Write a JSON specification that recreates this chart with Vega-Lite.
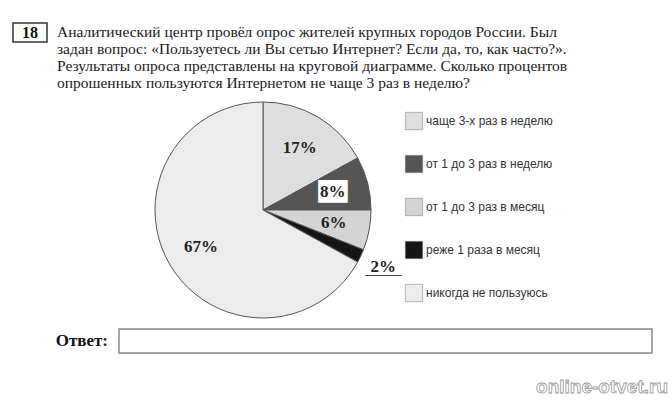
{
  "$schema": "https://vega.github.io/schema/vega-lite/v6.json",
  "padding": {"left": 12, "top": 22, "right": 0, "bottom": 0},
  "background": "white",
  "spacing": 6,
  "config": {"view": {"stroke": null}},
  "datasets": {
    "survey": [
      {"idx": 1, "cat": "чаще 3-х раз в неделю", "pct": 17, "label": "17%"},
      {"idx": 2, "cat": "от 1 до 3 раз в неделю", "pct": 8, "label": "8%"},
      {"idx": 3, "cat": "от 1 до 3 раз в месяц", "pct": 6, "label": "6%"},
      {"idx": 4, "cat": "реже 1 раза в месяц", "pct": 2, "label": "2%"},
      {"idx": 5, "cat": "никогда не пользуюсь", "pct": 67, "label": "67%"}
    ],
    "question": [
      {"line": 1, "text": "Аналитический центр провёл опрос жителей крупных городов России. Был"},
      {"line": 2, "text": "задан вопрос: «Пользуетесь ли Вы сетью Интернет? Если да, то, как часто?»."},
      {"line": 3, "text": "Результаты опроса представлены на круговой диаграмме. Сколько процентов"},
      {"line": 4, "text": "опрошенных пользуются Интернетом не чаще 3 раз в неделю?"}
    ]
  },
  "vconcat": [
    {
      "spacing": 9,
      "hconcat": [
        {
          "width": 34,
          "height": 19,
          "view": {"stroke": "#333", "strokeWidth": 1.5},
          "data": {"values": [{"n": "18"}]},
          "mark": {"type": "text", "font": "Liberation Serif", "fontSize": 16, "fontWeight": "bold", "color": "#111"},
          "encoding": {"text": {"field": "n"}}
        },
        {
          "width": 600,
          "height": 69,
          "data": {"name": "question"},
          "mark": {"type": "text", "align": "left", "font": "Liberation Serif", "fontSize": 15.5, "color": "#1a1a1a"},
          "encoding": {
            "y": {"field": "line", "type": "ordinal", "axis": null},
            "x": {"datum": 0, "type": "quantitative", "scale": {"domain": [0, 1]}, "axis": null},
            "text": {"field": "text"}
          }
        }
      ]
    },
    {
      "width": 500,
      "height": 224,
      "data": {"name": "survey"},
      "encoding": {
        "theta": {"field": "pct", "type": "quantitative", "stack": true},
        "order": {"field": "idx", "type": "quantitative"},
        "detail": {"field": "cat"}
      },
      "layer": [
        {
          "mark": {"type": "arc", "outerRadius": 108, "stroke": "#555", "strokeWidth": 1},
          "encoding": {
            "color": {
              "field": "cat",
              "type": "nominal",
              "scale": {
                "domain": ["чаще 3-х раз в неделю", "от 1 до 3 раз в неделю", "от 1 до 3 раз в месяц", "реже 1 раза в месяц", "никогда не пользуюсь"],
                "range": ["#dedede", "#555555", "#d4d4d4", "#151515", "#ececec"]
              },
              "legend": {
                "title": null,
                "orient": "none",
                "legendX": 392,
                "legendY": 89,
                "symbolType": "square",
                "symbolSize": 300,
                "symbolStrokeColor": "#777",
                "symbolStrokeWidth": 0.5,
                "rowPadding": 23,
                "labelFont": "Liberation Sans",
                "labelFontSize": 12,
                "labelColor": "#333",
                "labelOffset": 3
              }
            }
          }
        },
        {
          "mark": {"type": "text", "radius": 72, "font": "DejaVu Sans", "fontSize": 19, "color": "white"},
          "encoding": {
            "text": {"condition": {"test": "datum.idx == 2", "value": "██"}, "value": ""}
          }
        },
        {
          "mark": {"type": "text", "radius": {"expr": "datum.idx == 4 ? 133 : 72"}, "font": "Liberation Serif", "fontSize": 17, "fontWeight": "bold", "color": "#222"},
          "encoding": {
            "text": {"field": "label"}
          }
        },
        {
          "mark": {"type": "text", "radius": {"expr": "datum.idx == 4 ? 133 : 0"}, "dy": 2, "font": "Liberation Sans", "fontSize": 13, "color": "#222"},
          "encoding": {
            "text": {"condition": {"test": "datum.idx == 4", "value": "_____"}, "value": ""}
          }
        }
      ]
    },
    {
      "spacing": 10,
      "hconcat": [
        {
          "width": 95,
          "height": 24,
          "data": {"values": [{"t": "Ответ:"}]},
          "mark": {"type": "text", "align": "right", "font": "Liberation Serif", "fontSize": 17, "fontWeight": "bold", "color": "#111"},
          "encoding": {
            "x": {"datum": 1, "type": "quantitative", "scale": {"domain": [0, 1]}, "axis": null},
            "text": {"field": "t"}
          }
        },
        {
          "width": 533,
          "height": 24,
          "view": {"stroke": "#888", "strokeWidth": 1.5},
          "data": {"values": [{"t": ""}]},
          "mark": {"type": "text"},
          "encoding": {"text": {"field": "t"}}
        }
      ]
    },
    {
      "width": 655,
      "height": 24,
      "data": {"values": [{"t": "online-otvet.ru"}]},
      "mark": {"type": "text", "align": "right", "dy": 15, "font": "Liberation Sans", "fontSize": 19, "fontWeight": "bold", "fill": "white", "stroke": "#999", "strokeWidth": 0.8},
      "encoding": {
        "x": {"datum": 1, "type": "quantitative", "scale": {"domain": [0, 1]}, "axis": null},
        "text": {"field": "t"}
      }
    }
  ]
}
